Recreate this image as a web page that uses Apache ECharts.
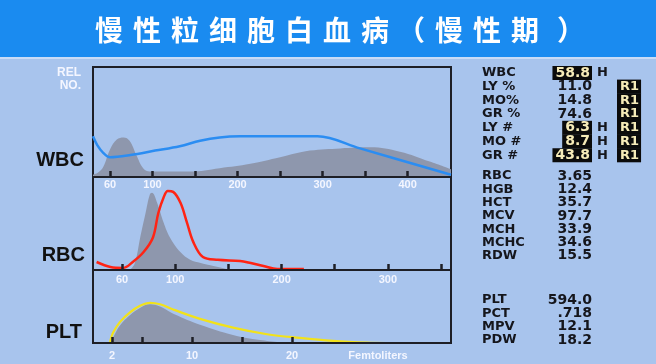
<!DOCTYPE html>
<html><head><meta charset="utf-8">
<script src="https://cdn.jsdelivr.net/npm/echarts@6/dist/echarts.min.js"></script>
<style>html,body{margin:0;padding:0;background:#a8c4ed;}#c{width:656px;height:364px;}</style>
</head><body><div id="c"></div>
<script>
// ---- data ----
const titleChars = ['慢','性','粒','细','胞','白','血','病','（','慢','性','期','）'];
// WBC histogram
const wbcGrayX = [30,36,42,50,58,66,73,81,89,97,115,144,179,215,250,285,321,356,391,426,451];
const wbcGrayY = [2,4,9,25,34,36,33,20,8,5,5,5,8,12,18,24,26,27,23,14,7];
const wbcLineX = [30,35,42,50,74,103,132,156,179,203,250,294,344,451];
const wbcLineY = [37,29,22,18,20,24,28,33,36,37,37,37,26,2];
const wbcTicks = [50,100,150,200,250,300,350,400];
const wbcLabelVals = [50,100,200,300,400];
const wbcLabelText = ['60','100','200','300','400'];
// RBC histogram
const rbcGrayX = [57.5,62,67,72,76,78,83,89,95,105,114,124,133,152];
const rbcGrayY = [0,7.5,35,61,81,83,72,51,35,19,11,7.5,5,0];
const rbcLineX = [26,39,51,60,70,79,84,89,93,98,105,111,117,126,140,161,171,183,196,221];
const rbcLineY = [8.6,3.2,2.2,8.6,19,35,61,78,85,84,72,51,30,14,11,9.7,7.5,4.3,1,1];
const rbcTicks = [50,100,150,200,250,300,350];
const rbcLabelVals = [50,100,200,300];
const rbcLabelText = ['60','100','200','300'];
// PLT histogram
const pltGrayX = [1.8,2.2,2.8,3.8,4.8,5.8,6.8,8.3,10.8,14.1,16.8,19.8];
const pltGrayY = [0,10,24,38,48,53,50,39,25,11,4,0];
const pltLineX = [1.8,2.1,2.8,3.8,4.8,5.8,6.8,8.3,10.8,14.1,17.5,20.8,24.1,27.5,29.5];
const pltLineY = [1.4,14,29,42,51,55,53,45,33,21,12,7,3,0.5,0];
const pltTicks = [2,5,10,15,20];
const pltLabelVals = [2,10,20];
const pltLabelText = ['2','10','20'];
// Result table
const wbcNames = ['WBC','LY %','MO%','GR %','LY #','MO #','GR #'];
const wbcValues = ['58.8','11.0','14.8','74.6','6.3','8.7','43.8'];
const wbcHigh = [true,false,false,false,true,true,true];
const wbcR1 = [false,true,true,true,true,true,true];
const rbcNames = ['RBC','HGB','HCT','MCV','MCH','MCHC','RDW'];
const rbcValues = ['3.65','12.4','35.7','97.7','33.9','34.6','15.5'];
const pltNames = ['PLT','PCT','MPV','PDW'];
const pltValues = ['594.0','.718','12.1','18.2'];

// ---- chart ----
const zip = (a,b) => a.map((v,i)=>[v,b[i]]);
const chart = echarts.init(document.getElementById('c'), null, {renderer:'canvas'});
const BG = '#a8c4ed', GRAY = '#8e97ad', FRAME = '#1e1f26';
const FONT = '"Liberation Sans", Arial, sans-serif';
const TFONT = '"DejaVu Sans", sans-serif';

function xAxis(idx, min, max, ticks, lv, lt, margin) {
  return {
    type:'value', gridIndex: idx, min, max, z:5,
    axisLine:{show:true, lineStyle:{color:FRAME, width:2}},
    axisTick:{show:true, inside:true, length:6, customValues:ticks, lineStyle:{color:FRAME, width:2.5}},
    axisLabel:{show:true, customValues:lv, margin, color:'#f4f6ff', fontWeight:'bold', fontSize:11, fontFamily:FONT,
      formatter:(v)=>{const i=lv.indexOf(v); return i>=0?lt[i]:'';}},
    splitLine:{show:false}
  };
}
function yAxis(idx){return {type:'value', gridIndex:idx, min:0, max:100, show:false};}

const graphics = [];
graphics.push({type:'rect', left:0, top:0, shape:{width:656, height:57}, style:{fill:'#1a8bf0'}, z:-10});
graphics.push({type:'rect', left:0, top:57, shape:{width:656, height:2}, style:{fill:'#c9dcf7'}, z:-10});
const titleX = [109,147,185,223,261,299,337,375,411,449,487,525,571];
titleChars.forEach((ch,i)=>{
  graphics.push({type:'text', x:titleX[i], y:30, style:{text:ch, fill:'#ffffff', font:'bold 28px "Noto Sans CJK SC"', align:'center', verticalAlign:'middle'}});
});
// left labels
graphics.push({type:'text', x:81, y:73, style:{text:'REL', fill:'#f4f6ff', font:'bold 12px '+FONT, align:'right', verticalAlign:'middle'}});
graphics.push({type:'text', x:81, y:86, style:{text:'NO.', fill:'#f4f6ff', font:'bold 12px '+FONT, align:'right', verticalAlign:'middle'}});
[['WBC',84,160],['RBC',85,255],['PLT',82,332]].forEach(([t,x,y])=>{
  graphics.push({type:'text', x, y, style:{text:t, fill:'#111', font:'bold 20px '+FONT, align:'right', verticalAlign:'middle'}});
});
graphics.push({type:'text', x:378, y:356, style:{text:'Femtoliters', fill:'#f4f6ff', font:'bold 11px '+FONT, align:'center', verticalAlign:'middle'}});

const TXT = '#15161c', CREAM = '#f6ebb8';
function addRows(names, values, y0, step, high, r1) {
  names.forEach((n,i)=>{
    const y = y0 + i*step;
    graphics.push({type:'text', x:482, y, style:{text:n, fill:TXT, font:'bold 13px '+TFONT, align:'left', verticalAlign:'middle'}});
    const hi = high && high[i];
    graphics.push({type:'text', x:592, y, style:{text:values[i], fill: hi?CREAM:TXT, font:'bold 14px '+TFONT, align:'right', verticalAlign:'middle',
      backgroundColor: hi?'#0b0b0b':'transparent', padding: hi?[0,2,0,3]:0, lineHeight:14}});
    if (hi) graphics.push({type:'text', x:597, y, style:{text:'H', fill:TXT, font:'bold 13px '+TFONT, align:'left', verticalAlign:'middle'}});
    if (r1 && r1[i]) graphics.push({type:'text', x:617, y, style:{text:'R1', fill:CREAM, font:'bold 13px '+TFONT, align:'left', verticalAlign:'middle',
      backgroundColor:'#0b0b0b', padding:[0,2,0,3], lineHeight:step+0.5}});
  });
}
addRows(wbcNames, wbcValues, 73, 13.7, wbcHigh, wbcR1);
addRows(rbcNames, rbcValues, 176, 13.3);
addRows(pltNames, pltValues, 300, 13.3);

const areaSeries = (idx, data) => ({type:'line', xAxisIndex:idx, yAxisIndex:idx, data, smooth:0.4, showSymbol:false, silent:true,
  lineStyle:{width:0}, itemStyle:{color:GRAY}, areaStyle:{color:GRAY, opacity:1}, z:1});
const lineSeries = (idx, data, color, w) => ({type:'line', xAxisIndex:idx, yAxisIndex:idx, data, smooth:0.35, showSymbol:false, silent:true,
  lineStyle:{width:w, color}, itemStyle:{color}, z:3});

chart.setOption({
  backgroundColor: BG,
  animation:false,
  grid:[
    {left:93, width:358, top:67, height:110, show:true, borderColor:FRAME, borderWidth:2, backgroundColor:'transparent'},
    {left:93, width:358, top:177, height:93, show:true, borderColor:FRAME, borderWidth:2, backgroundColor:'transparent'},
    {left:93, width:358, top:270, height:73, show:true, borderColor:FRAME, borderWidth:2, backgroundColor:'transparent'}
  ],
  xAxis:[
    xAxis(0, 30, 451, wbcTicks, wbcLabelVals, wbcLabelText, 2),
    xAxis(1, 22.6, 359.4, rbcTicks, rbcLabelVals, rbcLabelText, 4),
    xAxis(2, 0.1, 35.9, pltTicks, pltLabelVals, pltLabelText, 7)
  ],
  yAxis:[yAxis(0), yAxis(1), yAxis(2)],
  series:[
    areaSeries(0, zip(wbcGrayX, wbcGrayY)),
    lineSeries(0, zip(wbcLineX, wbcLineY), '#2b8df2', 2.5),
    areaSeries(1, zip(rbcGrayX, rbcGrayY)),
    lineSeries(1, zip(rbcLineX, rbcLineY), '#ff2414', 2.5),
    areaSeries(2, zip(pltGrayX, pltGrayY)),
    lineSeries(2, zip(pltLineX, pltLineY), '#f2e21a', 2.2)
  ],
  graphic: graphics
});
</script></body></html>
